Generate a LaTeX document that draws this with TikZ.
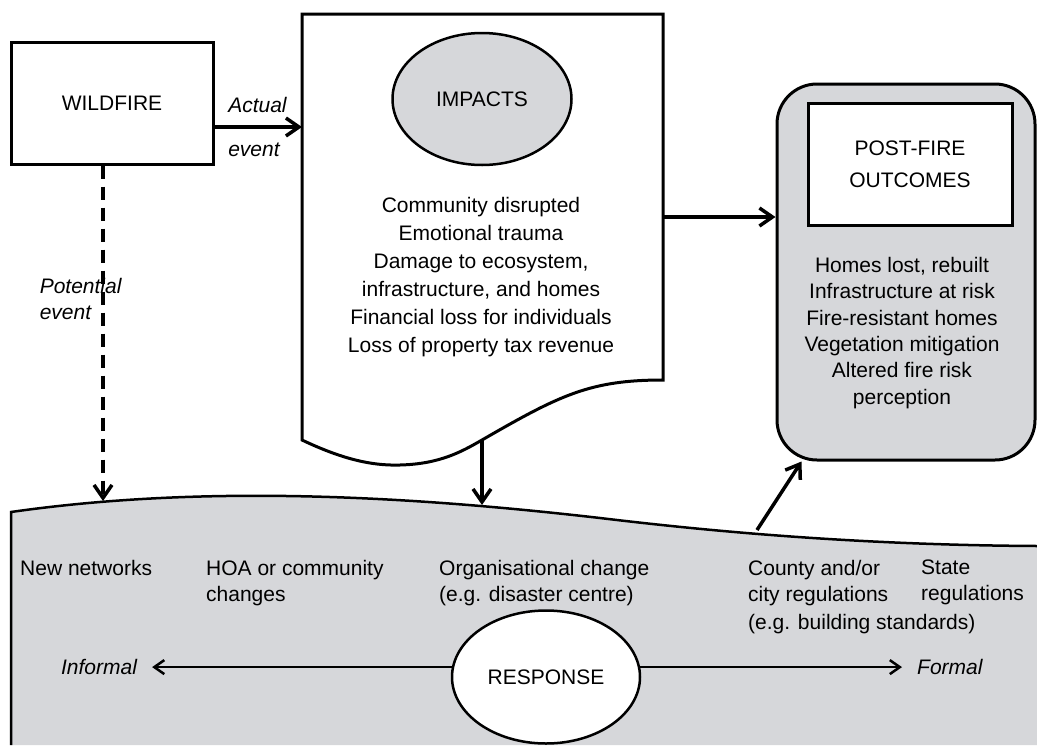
\documentclass[tikz,border=0pt]{standalone}
\usepackage{fontspec}
\setmainfont{Liberation Sans}
\usetikzlibrary{arrows.meta,shapes.geometric}
\definecolor{fillgray}{RGB}{214,215,218}

\begin{document}
\begin{tikzpicture}[x=1pt,y=-1pt,font=\fontsize{21}{26}\selectfont,
  every node/.style={inner sep=0pt},
  box/.style={draw,line width=3pt},
  blob/.style={draw,ellipse,line width=2.5pt},
  lbl/.style={font=\fontsize{21}{26}\selectfont\itshape},
  arr/.style={line width=3.5pt,-{Straight Barb[length=13pt,width=18pt]}},
  thinarr/.style={line width=2.5pt,-{Straight Barb[length=10pt,width=14pt]},shorten >=15pt}]
\useasboundingbox (0,0) rectangle (1037,745);

%response band
\fill[fillgray] (11,512) .. controls (200,485) and (400,495) .. (600,518)
  .. controls (700,530) and (850,545) .. (1037,546) -- (1037,745) -- (11,745) -- cycle;
\draw[line width=2.5pt] (11,745) -- (11,512) .. controls (200,485) and (400,495) .. (600,518)
  .. controls (700,530) and (850,545) .. (1037,546);
\coordinate (bandfire) at (103,501);
\coordinate (bandmid) at (482,505);
\coordinate (bandpost) at (757,530);

%impacts sheet
\draw[box,fill=white] (302,14) -- (663,14) -- (663,380)
  .. controls (590,380) and (560,395) .. (482,440)
  .. controls (462,451.5) and (440,464) .. (400,465)
  .. controls (370,466) and (340,458) .. (302,440) -- cycle;
\coordinate (sheetin) at (302,127);
\coordinate (sheetout) at (663,217);
\coordinate (sheetbot) at (482,440);

\node[box,minimum width=202pt,minimum height=122pt] (fire) at (112,103) {WILDFIRE};
\node[blob,fill=fillgray,minimum width=179pt,minimum height=132pt] (impacts) at (482,99) {IMPACTS};
\node[align=center,font=\fontsize{21}{28}\selectfont] (effects) at (481,277) {Community disrupted\\Emotional trauma\\Damage to ecosystem,\\infrastructure, and homes\\Financial loss for individuals\\Loss of property tax revenue};

\node[box,fill=fillgray,rounded corners=40pt,minimum width=258pt,minimum height=376pt] (post) at (906,272) {};
\node[box,fill=white,minimum width=204pt,minimum height=122pt,align=center,font=\fontsize{21}{32}\selectfont] (outcomes) at (910,164) {POST-FIRE\\OUTCOMES};
\node[align=center,font=\fontsize{21}{26.3}\selectfont] (results) at (902,333) {Homes lost, rebuilt\\Infrastructure at risk\\Fire-resistant homes\\Vegetation mitigation\\Altered fire risk\\perception};

\node[anchor=north west] (nets) at (20,560) {New networks};
\node[anchor=north west,align=left] (hoa) at (206,560) {HOA or community\\changes};
\node[anchor=north west,align=left] (org) at (439,560) {Organisational change\\(e.g. disaster centre)};
\node[anchor=north west,align=left] (county) at (748,560) {County and/or\\city regulations\\[2pt](e.g. building standards)};
\node[anchor=north west,align=left] (state) at (921,560) {State\\regulations};
\node[blob,fill=white,minimum width=188pt,minimum height=133pt] (resp) at (546,677) {RESPONSE};
\node[lbl] (informal) at (99,667) {Informal};
\node[lbl,anchor=west] (formal) at (917,667) {Formal};

\begin{scope}[arr]
%actual and potential event
\draw (fire.east |- sheetin) -- node[lbl,pos=0,anchor=south west,xshift=12pt,yshift=13pt]{Actual} node[lbl,pos=0,anchor=north west,xshift=12pt,yshift=-14pt]{event} (sheetin);
\draw[dash pattern=on 13pt off 8pt] (fire.south -| bandfire) -- node[lbl,pos=.331,anchor=north west,xshift=-65pt,align=left]{Potential\\event} (bandfire);
%impacts onward
\draw (sheetout) -- (sheetout -| post.west);
\draw (sheetbot) -- (bandmid);
\draw (bandpost) -- ([xshift=26pt]post.south west);
\end{scope}
%informal to formal
\draw[thinarr] (resp.174) -- (resp.174 -| informal.east);
\draw[thinarr] (resp.6) -- (resp.6 -| formal.west);
\end{tikzpicture}
\end{document}
